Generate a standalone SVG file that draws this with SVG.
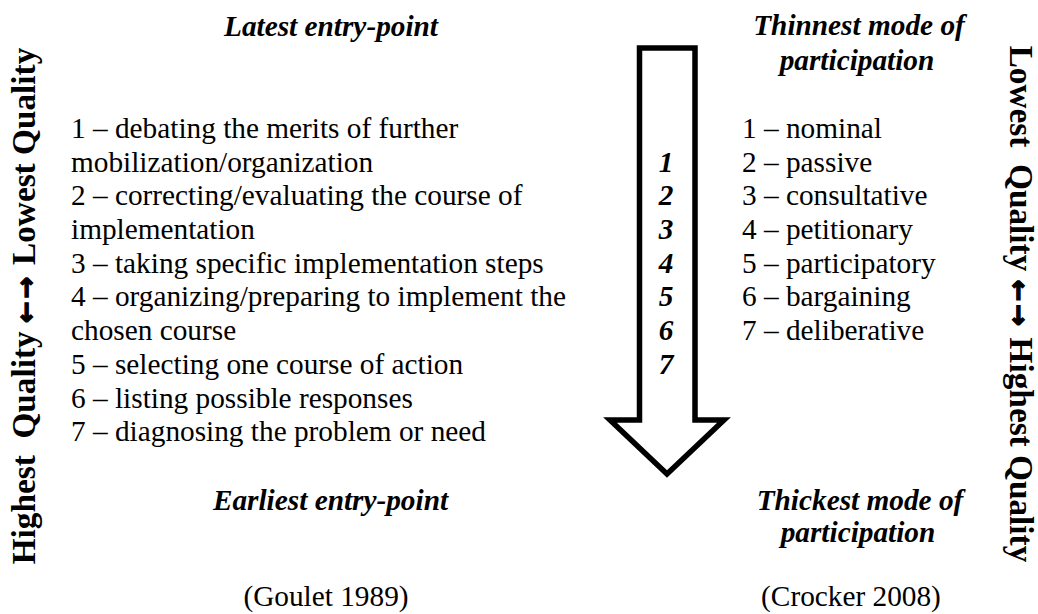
<svg xmlns="http://www.w3.org/2000/svg" width="1038" height="614" viewBox="0 0 1038 614">
  <style>
    text { font-family: "Liberation Serif", "Times New Roman", serif; font-size: 29.3px; fill: #000; }
    .head { font-weight: bold; font-style: italic; text-anchor: middle; }
    .num { font-weight: bold; font-style: italic; text-anchor: middle; }
    .side { font-weight: bold; font-size: 33.3px; text-anchor: middle; }
    .dir { font-family: "DejaVu Sans", sans-serif; font-size: 26px; font-weight: bold; stroke: #000; stroke-width: 1.4; letter-spacing: 3px; }
    .cite { text-anchor: middle; }
    .arrow { fill: #fff; stroke: #000; stroke-width: 5.5; stroke-linejoin: miter; }
  </style>
  <rect width="1038" height="614" fill="#fff"/>

  <!-- big downward arrow with the step numbers -->
  <g id="connectors">
    <polygon class="arrow" points="639.5,48 695,48 695,420 724,420 667,474 610,420 639.5,420"/>
  </g>
  <g id="arrow-numbers">
    <text class="num" x="666" y="171.7">1</text>
    <text class="num" x="666" y="205.4">2</text>
    <text class="num" x="666" y="239">3</text>
    <text class="num" x="666" y="272.7">4</text>
    <text class="num" x="666" y="306.4">5</text>
    <text class="num" x="666" y="340">6</text>
    <text class="num" x="666" y="373.8">7</text>
  </g>

  <!-- Goulet: entry-points -->
  <g id="entry-points">
    <text class="head" x="331" y="36">Latest entry-point</text>
    <text x="71" y="138">1 – debating the merits of further</text>
    <text x="71" y="171.7">mobilization/organization</text>
    <text x="71" y="205.4">2 – correcting/evaluating the course of</text>
    <text x="71" y="239">implementation</text>
    <text x="71" y="272.7">3 – taking specific implementation steps</text>
    <text x="71" y="306.4">4 – organizing/preparing to implement the</text>
    <text x="71" y="340">chosen course</text>
    <text x="71" y="373.8">5 – selecting one course of action</text>
    <text x="71" y="407.5">6 – listing possible responses</text>
    <text x="71" y="441.2">7 – diagnosing the problem or need</text>
    <text class="head" x="330.5" y="510">Earliest entry-point</text>
    <text class="cite" x="326" y="606">(Goulet 1989)</text>
  </g>

  <!-- Crocker: modes of participation -->
  <g id="participation-modes">
    <text class="head" x="859" y="35">Thinnest mode of</text>
    <text class="head" x="857" y="70">participation</text>
    <text x="742" y="138">1 – nominal</text>
    <text x="742" y="171.7">2 – passive</text>
    <text x="742" y="205.4">3 – consultative</text>
    <text x="742" y="239">4 – petitionary</text>
    <text x="742" y="272.7">5 – participatory</text>
    <text x="742" y="306.4">6 – bargaining</text>
    <text x="742" y="340">7 – deliberative</text>
    <text class="head" x="860" y="510">Thickest mode of</text>
    <text class="head" x="858" y="542">participation</text>
    <text class="cite" x="851" y="606">(Crocker 2008)</text>
  </g>

  <!-- quality scales along both edges -->
  <g id="quality-left">
    <text class="side" transform="translate(35,306) rotate(-90)" xml:space="preserve">Highest  Quality <tspan class="dir">←→</tspan> Lowest Quality</text>
  </g>
  <g id="quality-right">
    <text class="side" transform="translate(1010,304) rotate(90)" xml:space="preserve">Lowest  Quality <tspan class="dir">←→</tspan> Highest Quality</text>
  </g>
</svg>
